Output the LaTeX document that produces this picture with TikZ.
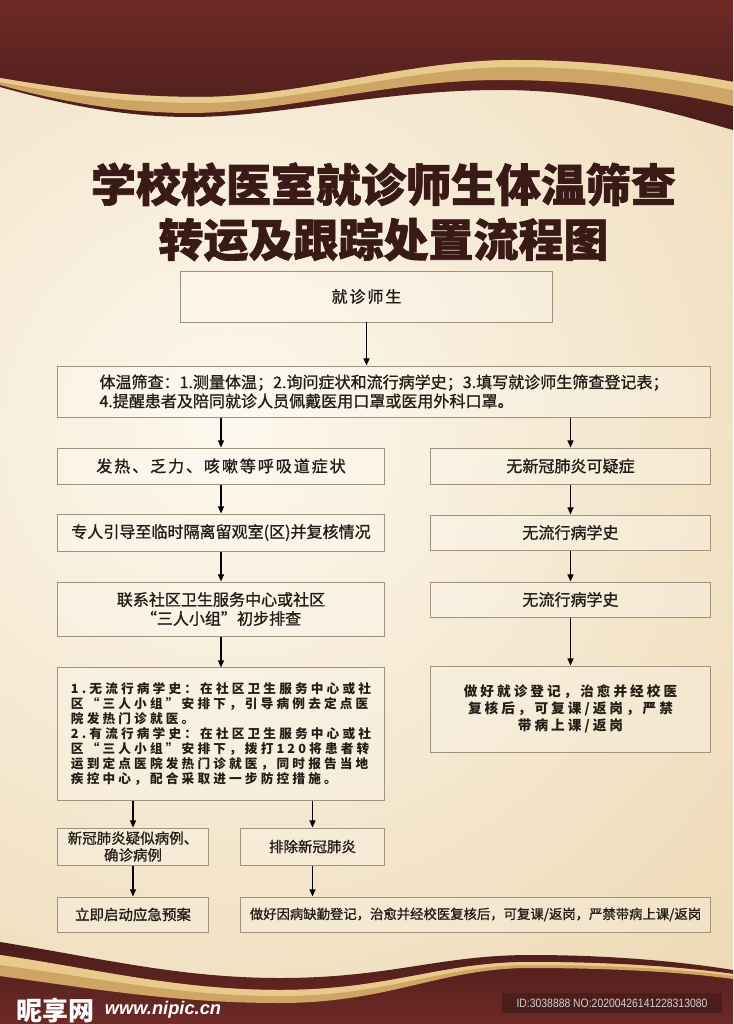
\documentclass[tikz,border=0pt]{standalone}
\usepackage{fontspec}
\setmainfont{Noto Sans CJK SC}
\newfontfamily\titlefont{Noto Sans CJK SC}[BoldFeatures={FakeBold=1.4}]
\newfontfamily\boxfont{Noto Sans CJK SC}[FakeBold=1]
\newfontfamily\spreadfont{Noto Sans CJK SC}[LetterSpace=12, FakeBold=1]
\newfontfamily\widefont{Noto Sans CJK SC}[LetterSpace=25]
\newfontfamily\roomyfont{Noto Sans CJK SC}[LetterSpace=22]
\newfontfamily\latinfont{Liberation Sans}
\newfontfamily\idfont{Liberation Sans}[FakeStretch=0.86]
\usepackage{tikz}
\usetikzlibrary{positioning,arrows.meta,calc}
\usepackage{xcolor}
\definecolor{bgcenter}{HTML}{FDF8EE}
\definecolor{bgedge}{HTML}{E2C28A}
\definecolor{maroontop}{HTML}{6E2A26}
\definecolor{maroonlow}{HTML}{4A1D1B}
\definecolor{goldlight}{HTML}{E9C98C}
\definecolor{golddark}{HTML}{CFA566}
\definecolor{titlebrown}{HTML}{3A1A16}
\definecolor{boxline}{HTML}{A2927D}
\definecolor{ink}{HTML}{231C17}
\definecolor{idback}{HTML}{4B1D1B}

\begin{document}
\begin{tikzpicture}[
    x=0.025cm, y=-0.025cm,
    flowbox/.style={rectangle, draw=boxline, line width=0.7pt, fill=white, fill opacity=0.22, text opacity=1, inner sep=0pt, text=ink, align=center, font=\boxfont\fontsize{11.4}{13.5}\selectfont},
    smallbox/.style={flowbox, font=\boxfont\fontsize{10.3}{12}\selectfont},
    arrow/.style={-{Triangle[length=5pt,width=4.2pt]}, line width=0.9pt, black}
]
\useasboundingbox (0,0) rectangle (733,1024);

% background
\begin{scope}
  \clip (0,0) rectangle (733,1024);
  \shade[inner color=bgcenter, outer color=bgedge] (230,430) circle[radius=32cm];
\end{scope}

% top band
\shade[top color=maroontop, bottom color=maroonlow] (0,0) -- (733,0) -- (733,130)
  .. controls (680,115) and (600,90) .. (500,90)
  .. controls (380,90) and (280,117) .. (190,117)
  .. controls (110,117) and (40,98) .. (0,87) -- cycle;
\fill[golddark] (0,78) .. controls (70,90) and (130,97) .. (200,97)
  .. controls (300,97) and (410,60) .. (514,60)
  .. controls (600,60) and (680,72) .. (733,82)
  -- (733,106) .. controls (680,94) and (600,80) .. (500,80)
  .. controls (390,80) and (280,113) .. (190,113)
  .. controls (110,113) and (40,96) .. (0,85) -- cycle;
\fill[goldlight] (0,78) .. controls (70,90) and (130,97) .. (200,97)
  .. controls (300,97) and (410,60) .. (514,60)
  .. controls (600,60) and (680,72) .. (733,82)
  -- (733,90) .. controls (680,80) and (600,67) .. (514,67)
  .. controls (410,67) and (300,103) .. (200,103)
  .. controls (130,103) and (70,95) .. (0,82) -- cycle;

% bottom band
\shade[top color=maroonlow, bottom color=maroontop] (0,942)
  .. controls (100,958) and (180,978) .. (280,978)
  .. controls (390,978) and (440,955) .. (530,955)
  .. controls (620,955) and (690,963) .. (733,970)
  -- (733,1024) -- (0,1024) -- cycle;
\fill[golddark] (0,955) .. controls (100,970) and (180,990) .. (280,990)
  .. controls (390,990) and (440,962) .. (530,962)
  .. controls (620,962) and (690,968) .. (733,974)
  -- (733,979) .. controls (690,973) and (620,968) .. (530,968)
  .. controls (440,968) and (390,1003) .. (280,1003)
  .. controls (180,1003) and (100,990) .. (0,976) -- cycle;
\fill[goldlight] (0,955) .. controls (100,970) and (180,990) .. (280,990)
  .. controls (390,990) and (440,962) .. (530,962)
  .. controls (620,962) and (690,968) .. (733,974)
  -- (733,976) .. controls (690,970) and (620,965) .. (530,965)
  .. controls (440,965) and (390,996) .. (280,996)
  .. controls (180,996) and (100,978) .. (0,965) -- cycle;

% title
\node[text=titlebrown, align=center, font=\titlefont\bfseries\fontsize{32}{39}\selectfont] (title) at (383.5,212)
  {学校校医室就诊师生体温筛查\\转运及跟踪处置流程图};

% boxes
\node[flowbox, minimum width=9.275cm, minimum height=1.275cm, font=\spreadfont\fontsize{11.4}{13.5}\selectfont] (visit) at (366.5,296.5) {就诊师生};
\node[flowbox, minimum width=16.3cm, minimum height=1.275cm, align=left] (screen) at (384,391.5)
  {体温筛查：1.测量体温；2.询问症状和流行病学史；3.填写就诊师生筛查登记表；\\
   4.提醒患者及陪同就诊人员佩戴医用口罩或医用外科口罩。};

\node[flowbox, minimum width=8.15cm, minimum height=0.9cm, font=\spreadfont\fontsize{11.4}{13.5}\selectfont] (fever) at (221,466) {发热、乏力、咳嗽等呼吸道症状};
\node[flowbox, minimum width=8.15cm, minimum height=0.925cm] (guide) at (221,532.5) {专人引导至临时隔离留观室(区)并复核情况};
\node[flowbox, minimum width=8.15cm, minimum height=1.35cm] (contact) at (221,609) {联系社区卫生服务中心或社区\\“三人小组”初步排查};
\node[flowbox, minimum width=8.15cm, minimum height=3.3cm, align=left, font=\widefont\bfseries\fontsize{9}{10.6}\selectfont] (plan) at (221,734)
  {1.无流行病学史：在社区卫生服务中心或社\\
   区“三人小组”安排下，引导病例去定点医\\
   院发热门诊就医。\\
   2.有流行病学史：在社区卫生服务中心或社\\
   区“三人小组”安排下，拨打120将患者转\\
   运到定点医院发热门诊就医，同时报告当地\\
   疾控中心，配合采取进一步防控措施。};

\node[flowbox, minimum width=6.975cm, minimum height=0.9cm] (nosus) at (570.5,466) {无新冠肺炎可疑症};
\node[flowbox, minimum width=6.975cm, minimum height=0.875cm] (nohista) at (570.5,532.5) {无流行病学史};
\node[flowbox, minimum width=6.975cm, minimum height=0.875cm] (nohistb) at (570.5,599.5) {无流行病学史};
\node[flowbox, minimum width=6.975cm, minimum height=2.15cm, font=\roomyfont\bfseries\fontsize{9.7}{11.9}\selectfont] (register) at (570.5,709)
  {做好就诊登记，治愈并经校医\\复核后，可复课/返岗，严禁\\带病上课/返岗};

\node[smallbox, minimum width=3.75cm, minimum height=0.925cm] (suspect) at (133,846.5) {新冠肺炎疑似病例、\\确诊病例};
\node[smallbox, minimum width=3.575cm, minimum height=0.925cm] (exclude) at (312.5,846.5) {排除新冠肺炎};
\node[smallbox, minimum width=3.75cm, minimum height=0.875cm] (emergency) at (133,914.5) {立即启动应急预案};
\node[smallbox, minimum width=11.725cm, minimum height=0.875cm, font=\boxfont\fontsize{9.5}{11}\selectfont] (absence) at (475.5,914.5)
  {做好因病缺勤登记，治愈并经校医复核后，可复课/返岗，严禁带病上课/返岗};

% arrows
\draw[arrow] (visit.south) -- (visit.south |- screen.north);
\draw[arrow] (screen.south -| fever) -- (fever);
\draw[arrow] (screen.south -| nosus) -- (nosus);
\draw[arrow] (fever) -- (guide);
\draw[arrow] (guide) -- (contact);
\draw[arrow] (contact) -- (plan);
\draw[arrow] (nosus) -- (nohista);
\draw[arrow] (nohista) -- (nohistb);
\draw[arrow] (nohistb) -- (register);
\draw[arrow] (plan.south -| suspect) -- (suspect);
\draw[arrow] (plan.south -| exclude) -- (exclude);
\draw[arrow] (suspect) -- (emergency);
\draw[arrow] (exclude.south) -- (exclude.south |- absence.north);

% watermark
\node[text=white, anchor=west, font=\bfseries\fontsize{18.5}{20}\selectfont] (site) at (12,1010) {昵享网};
\node[text=white, anchor=west, font=\latinfont\bfseries\itshape\fontsize{13}{15}\selectfont] (siteurl) at (site.east) {www.nipic.cn};
\node[fill=idback, minimum width=5.5cm, minimum height=0.5cm, inner sep=0pt, text=white!82!black, font=\idfont\fontsize{8.6}{10}\selectfont] (idbox) at (612,1003) {ID:3038888 NO:20200426141228313080};
\end{tikzpicture}
\end{document}
